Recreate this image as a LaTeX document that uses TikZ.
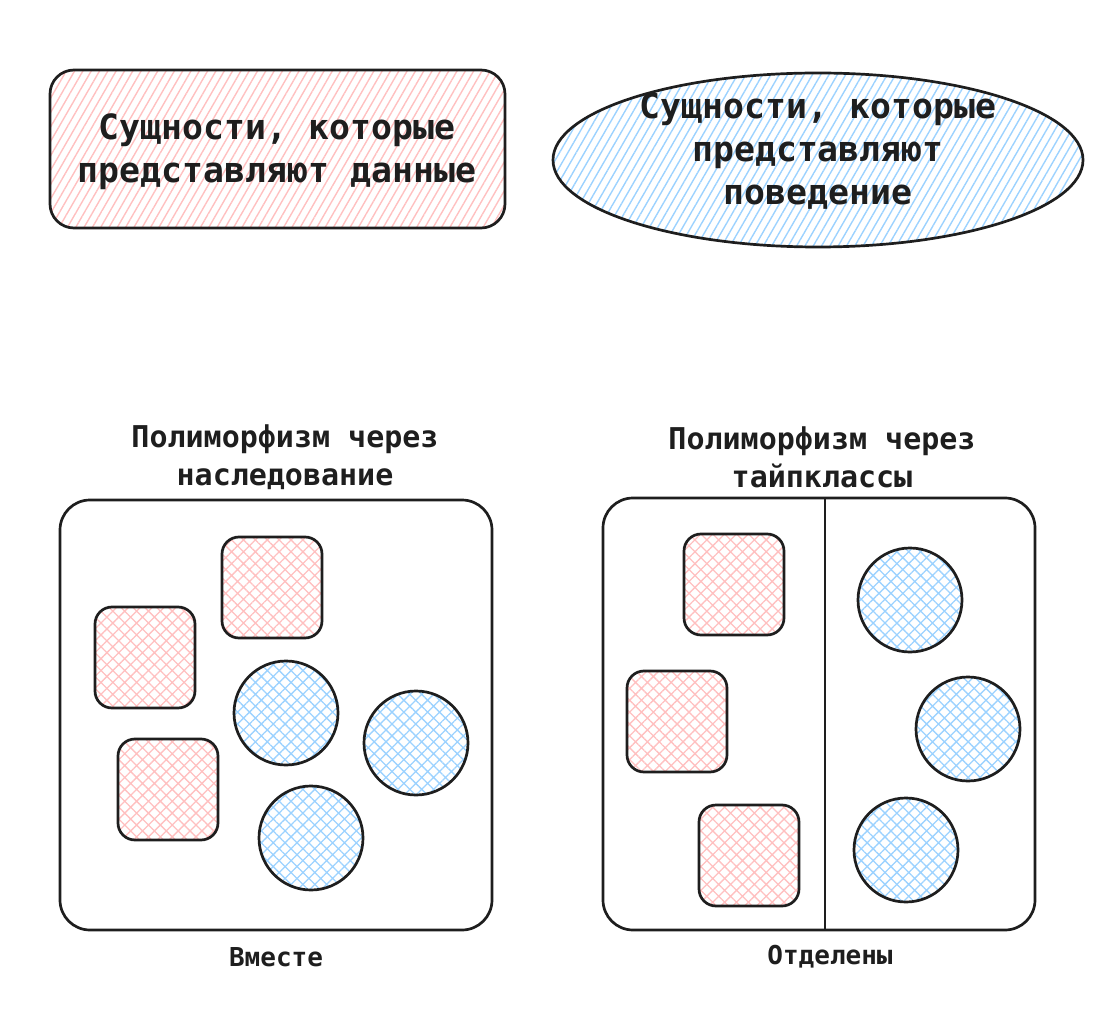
\documentclass[tikz,border=0pt]{standalone}
\usepackage{fontspec}
\setmonofont{DejaVu Sans Mono}
\usetikzlibrary{patterns.meta}
\definecolor{ink}{HTML}{1E1E1E}
\definecolor{datared}{HTML}{FFC0C0}
\definecolor{behblue}{HTML}{9CD2FF}
\tikzset{
  outline/.style={draw=ink, line width=1.35pt},
  datalines/.style={pattern={Lines[angle=60,distance=3.6pt,line width=0.7pt]}, pattern color=datared},
  behlines/.style={pattern={Lines[angle=60,distance=3.6pt,line width=0.7pt]}, pattern color=behblue},
  datacross/.style={pattern={Hatch[angle=45,distance=4.2pt,line width=0.65pt]}, pattern color=datared},
  behcross/.style={pattern={Hatch[angle=45,distance=4.2pt,line width=0.65pt]}, pattern color=behblue},
  bigtext/.style={font=\ttfamily\bfseries\fontsize{17.4}{21.5}\selectfont, text=ink, align=center},
  titletext/.style={font=\ttfamily\bfseries\fontsize{15}{19}\selectfont, text=ink, align=center},
  captext/.style={font=\ttfamily\bfseries\fontsize{13}{16}\selectfont, text=ink}
}
\begin{document}
\begin{tikzpicture}[x=0.5pt, y=-0.5pt]
\useasboundingbox (0,0) rectangle (1113,1021);

% top legend
\draw[outline, datalines, rounded corners=12pt] (50,70) rectangle (505,228);
\node[bigtext] (datalegend) at (277,152) {Сущности, которые\\представляют данные};
\draw[outline, behlines] (818,160) ellipse [x radius=265, y radius=87];
\node[bigtext] (behlegend) at (818,151) {Сущности, которые\\представляют\\поведение};

% inheritance
\node[titletext] (inhtitle) at (285,457) {Полиморфизм через\\наследование};
\draw[outline, rounded corners=15pt] (60,500) rectangle (492,930);
\foreach \x/\y in {222/537, 95/607, 118/739}
  \draw[outline, datacross, rounded corners=8.5pt] (\x,\y) rectangle ++(100,101);
\foreach \x/\y in {286/713, 416/743, 311/838}
  \draw[outline, behcross] (\x,\y) circle [radius=52];
\node[captext] (inhcap) at (276,957) {Вместе};

% typeclasses
\node[titletext] (tctitle) at (822,457) {Полиморфизм через\\тайпклассы};
\draw[outline, rounded corners=15pt] (603,498) rectangle (1035,930);
\draw[outline] (825,498) -- (825,930);
\foreach \x/\y in {684/534, 627/671, 699/805}
  \draw[outline, datacross, rounded corners=8.5pt] (\x,\y) rectangle ++(100,101);
\foreach \x/\y in {910/600, 968/729, 906/850}
  \draw[outline, behcross] (\x,\y) circle [radius=52];
\node[captext] (tccap) at (830,957) {Отделены};
\end{tikzpicture}
\end{document}
